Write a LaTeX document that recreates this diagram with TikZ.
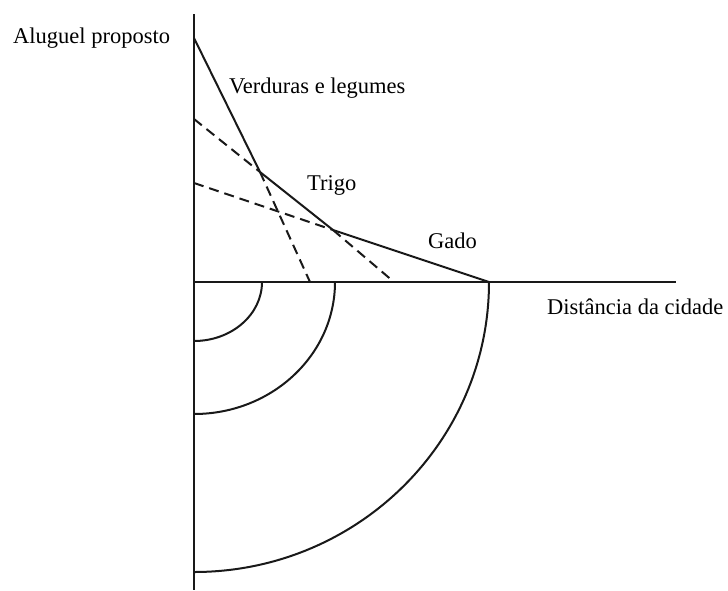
\documentclass[tikz,border=0pt]{standalone}
\usepackage{fontspec}
\setmainfont{Liberation Serif}
\begin{document}
\begin{tikzpicture}[x=1pt,y=-1pt,
  curve/.style={line width=2pt,black!90},
  dsh/.style={line width=2pt,black!90,dash pattern=on 10pt off 6pt},
  lbl/.style={font=\fontsize{22.5}{26}\selectfont,inner sep=0pt}]
\useasboundingbox (0,0) rectangle (728,590);
% axes
\coordinate (O) at (194,282);
\coordinate (ytop) at (194,14);
\coordinate (ybot) at (194,590);
\coordinate (xend) at (676,282);
\draw[curve] (ytop) -- (ybot);
\draw[curve] (O) -- (xend);
% bid-rent lines
\coordinate (V0) at (194,38);
\coordinate (T0) at (194,119);
\coordinate (G0) at (194,183);
\coordinate (VT) at (260,172);
\coordinate (TG) at (333,230);
\coordinate (Vend) at (310,282);
\coordinate (Tend) at (394,282);
\coordinate (Gend) at (489,282);
\draw[curve] (V0) -- (VT) -- (TG) -- (Gend);
\draw[dsh] (VT) -- (Vend);
\draw[dsh] (T0) -- (VT);
\draw[dsh] (TG) -- (Tend);
\draw[dsh] (G0) -- (TG);
% rings
\draw[curve] (262,282) arc[start angle=0,end angle=90,x radius=68,y radius=59];
\draw[curve] (335,282) arc[start angle=0,end angle=90,x radius=141,y radius=132];
\draw[curve] (Gend) arc[start angle=0,end angle=90,x radius=295,y radius=290];
% labels
\node[lbl,anchor=west] (ay) at (13,38) {Aluguel proposto};
\node[lbl,anchor=west] (vl) at (229,88) {Verduras e legumes};
\node[lbl,anchor=west] (tr) at (307,185) {Trigo};
\node[lbl,anchor=west] (ga) at (428,241) {Gado};
\node[lbl,anchor=west] (dx) at (547,307) {Distância da cidade};
\end{tikzpicture}
\end{document}
